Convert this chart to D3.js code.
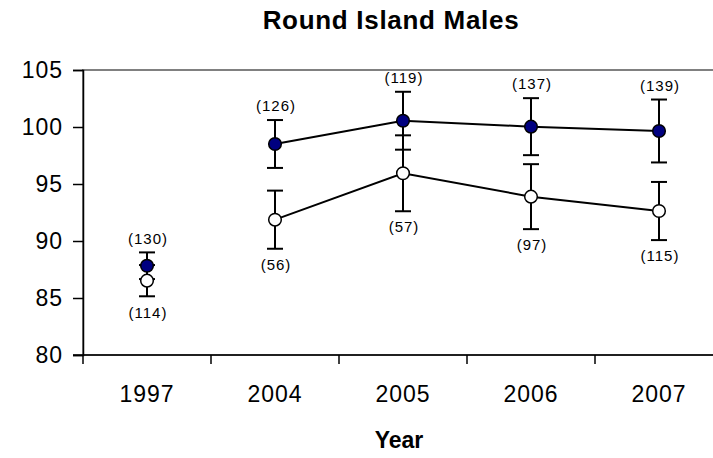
<!DOCTYPE html>
<html>
<head>
<meta charset="utf-8">
<script src="https://cdn.jsdelivr.net/npm/d3@7"></script>
<style>
  body { margin: 0; background: #fff; }
  svg text { font-family: Arial, "Liberation Sans", sans-serif; fill: #000; }
</style>
</head>
<body>
<div class="canva"></div>
<script>
// categories and values
var years = ["1997", "2004", "2005", "2006", "2007"];

// filled (navy) series
var meanA = [87.83, 98.51, 100.55, 100.03, 99.65];
var errA  = [1.17, 2.10, 2.54, 2.50, 2.76];
var nA    = [130, 126, 119, 137, 139];

// open (white) series
var meanB = [86.52, 91.87, 95.94, 93.89, 92.63];
var errB  = [1.37, 2.55, 3.33, 2.85, 2.55];
var nB    = [114, 56, 57, 97, 115];

var yTicks = [80, 85, 90, 95, 100, 105];

const svg = d3.select(".canva").append("svg")
    .attr("width", 713)
    .attr("height", 458);

// plot box (right edge runs past the picture like the original)
const plotLeft = 83, plotTop = 70, plotBottom = 355, band = 128;

var x = d3.scaleBand()
    .domain(years)
    .range([plotLeft, plotLeft + band * years.length])
    .padding(0);

var y = d3.scaleLinear()
    .domain([80, 105])
    .range([plotBottom, plotTop]);

// plot frame
svg.append("rect")
    .attr("x", plotLeft)
    .attr("y", plotTop)
    .attr("width", band * years.length)
    .attr("height", plotBottom - plotTop)
    .attr("fill", "none")
    .attr("stroke", "#808080")
    .attr("stroke-width", 2);

// title
svg.append("text")
    .attr("x", 391)
    .attr("y", 29)
    .attr("text-anchor", "middle")
    .style("font-size", "26px")
    .style("font-weight", "bold")
    .style("letter-spacing", "0.7px")
    .text("Round Island Males");

// y axis
var yAxis = d3.axisLeft(y)
    .tickValues(yTicks)
    .tickSize(10)
    .tickPadding(10);

var gy = svg.append("g")
    .attr("transform", `translate(${plotLeft},0)`)
    .call(yAxis);
gy.attr("font-family", null).attr("font-size", null);
gy.selectAll("path, line").attr("stroke", "#000").attr("stroke-width", 1.5);
gy.selectAll("text")
    .style("font-size", "23px")
    .style("letter-spacing", "1px");

// x axis: line, ticks between categories, labels in the middle
svg.append("line")
    .attr("x1", plotLeft - 10).attr("x2", 713)
    .attr("y1", plotBottom).attr("y2", plotBottom)
    .attr("stroke", "#000").attr("stroke-width", 1.5);

svg.selectAll(".xtick")
    .data(years)
    .enter().append("line")
    .attr("class", "xtick")
    .attr("x1", d => x(d)).attr("x2", d => x(d))
    .attr("y1", plotBottom).attr("y2", plotBottom + 9)
    .attr("stroke", "#000").attr("stroke-width", 1.5);

svg.selectAll(".xlabel")
    .data(years)
    .enter().append("text")
    .attr("class", "xlabel")
    .attr("x", d => x(d) + x.bandwidth() / 2)
    .attr("y", 402)
    .attr("text-anchor", "middle")
    .style("font-size", "23px")
    .style("letter-spacing", "1px")
    .text(d => d);

svg.append("text")
    .attr("x", 399)
    .attr("y", 448)
    .attr("text-anchor", "middle")
    .style("font-size", "23px")
    .style("font-weight", "bold")
    .text("Year");

var cx = d => x(d) + x.bandwidth() / 2;

// build point tables for the two series
var series = [
  { mean: meanA, err: errA, n: nA, fill: "#000080", above: true },
  { mean: meanB, err: errB, n: nB, fill: "#ffffff", above: false }
].map(s => {
  s.pts = years.map((yr, i) => ({ year: yr, v: s.mean[i], e: s.err[i], n: s.n[i] }));
  return s;
});

// error bars
series.forEach(s => {
  var g = svg.append("g").attr("stroke", "#000").attr("stroke-width", 2);
  s.pts.forEach(p => {
    var px = cx(p.year);
    g.append("line")
      .attr("x1", px).attr("x2", px)
      .attr("y1", y(p.v + p.e)).attr("y2", y(p.v - p.e));
    [p.v + p.e, p.v - p.e].forEach(v => {
      g.append("line")
        .attr("x1", px - 8).attr("x2", px + 8)
        .attr("y1", y(v)).attr("y2", y(v));
    });
  });
});

// connecting lines (1997 stands alone)
var line = d3.line()
    .x(d => cx(d.year))
    .y(d => y(d.v));

series.forEach(s => {
  svg.append("path")
    .datum(s.pts.filter(p => p.year !== "1997"))
    .attr("fill", "none")
    .attr("stroke", "#000")
    .attr("stroke-width", 2)
    .attr("d", line);
});

// markers
series.forEach(s => {
  svg.selectAll(null)
    .data(s.pts)
    .enter().append("circle")
    .attr("cx", d => cx(d.year))
    .attr("cy", d => y(d.v))
    .attr("r", 6.3)
    .attr("fill", s.fill)
    .attr("stroke", "#000")
    .attr("stroke-width", 1.5);
});

// sample size labels
series.forEach(s => {
  svg.selectAll(null)
    .data(s.pts)
    .enter().append("text")
    .attr("x", d => cx(d.year) + 1)
    .attr("y", d => s.above ? y(d.v + d.e) - 14 : y(d.v - d.e) + 16)
    .attr("dy", "0.35em")
    .attr("text-anchor", "middle")
    .style("font-size", "15px")
    .style("letter-spacing", "1px")
    .text(d => "(" + d.n + ")");
});
</script>
</body>
</html>
